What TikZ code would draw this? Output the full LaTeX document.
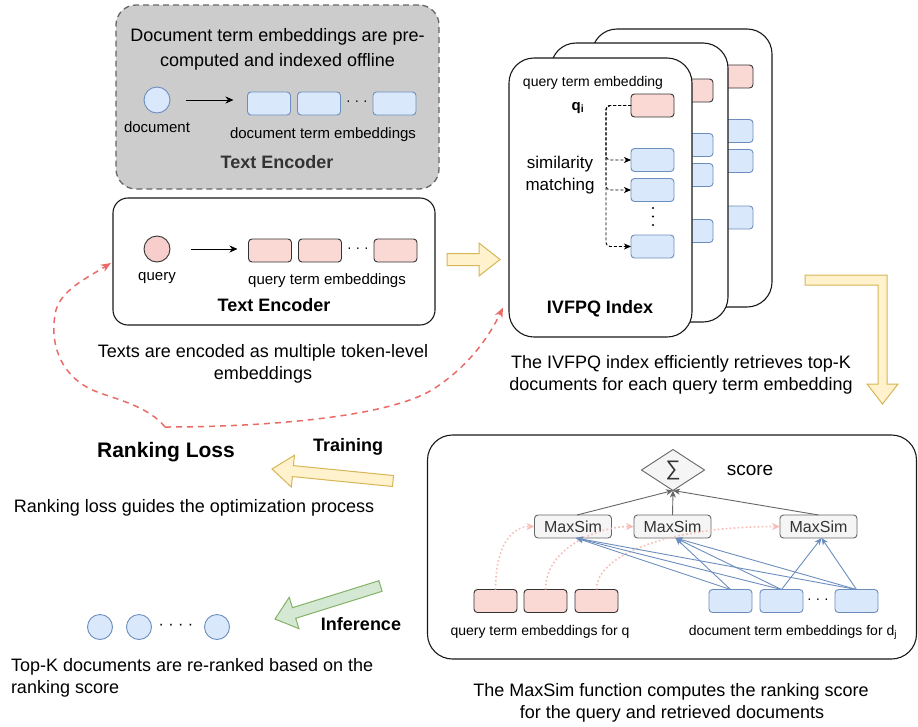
\documentclass[tikz,border=0pt]{standalone}
\usepackage{fontspec}
\setmainfont{Liberation Sans}
\usetikzlibrary{arrows.meta,shapes.geometric,calc}
\definecolor{bluefill}{HTML}{DAE8FC}
\definecolor{bluedraw}{HTML}{6C8EBF}
\definecolor{pinkfill}{HTML}{FAD9D5}
\definecolor{pinkcirc}{HTML}{F8CECC}
\definecolor{yelfill}{HTML}{FFF2CC}
\definecolor{yeldraw}{HTML}{D6B656}
\definecolor{grnfill}{HTML}{D5E8D4}
\definecolor{grndraw}{HTML}{82B366}
\definecolor{redline}{HTML}{EA6B66}
\definecolor{greybox}{HTML}{CCCCCC}
\definecolor{greyline}{HTML}{666666}
\definecolor{lightfill}{HTML}{F5F5F5}
\definecolor{darktext}{HTML}{333333}
\definecolor{pinkdot}{HTML}{F5BFB8}
\begin{document}
\begin{tikzpicture}[x=1pt,y=-1pt,
 every node/.style={inner sep=0pt,outer sep=0pt},
 t14/.style={font=\fontsize{14}{17}\selectfont},
 t15/.style={font=\fontsize{15}{18}\selectfont},
 t16/.style={font=\fontsize{16}{19}\selectfont},
 t17/.style={font=\fontsize{17}{20}\selectfont},
 t18/.style={font=\fontsize{18}{22}\selectfont},
 t19/.style={font=\fontsize{19}{23}\selectfont},
 t18b/.style={font=\fontsize{18}{22}\selectfont\bfseries},
 t21b/.style={font=\fontsize{21}{25}\selectfont\bfseries},
 embb/.style={draw=bluedraw,fill=bluefill,rounded corners=3.5,minimum width=43,minimum height=23,line width=0.9},
 embp/.style={draw=darktext,fill=pinkfill,rounded corners=3.5,minimum width=43,minimum height=23,line width=0.9},
 card/.style={draw=black!90,fill=white,rounded corners=25,line width=1.1},
 bigbox/.style={draw=black!90,fill=white,line width=1.1},
 msbox/.style={draw=greyline,fill=lightfill,rounded corners=3.5,minimum width=77,minimum height=23,text=darktext,line width=0.9,font=\fontsize{16}{19}\selectfont},
 doccirc/.style={circle,draw=bluedraw,fill=bluefill,line width=0.9},
 yarrow/.style={draw=yeldraw,fill=yelfill,line width=1},
 garrowblock/.style={draw=grndraw,fill=grnfill,line width=1},
 blackarrow/.style={-{Stealth[length=8pt,width=7pt,inset=2.5pt]},line width=0.9},
 simarrow/.style={-{Stealth[length=7pt,width=6pt,inset=2pt]},dash pattern=on 3pt off 2pt,line width=0.9,rounded corners=4},
 reddash/.style={-{Stealth[length=10pt,width=8pt,inset=3pt]},draw=redline,line width=1.5,dash pattern=on 6pt off 5pt},
 greyarrow/.style={-{Stealth[length=7pt,width=6pt,inset=2pt]},draw=greyline,line width=0.9},
 bluearrow/.style={-{Stealth[length=7pt,width=6pt,inset=2pt]},draw=bluedraw,line width=0.9},
 pinkarrow/.style={-{Stealth[length=8pt,width=7pt,inset=2.5pt]},draw=pinkdot,line width=1.6,dash pattern=on 1.6pt off 2.4pt}
]
\useasboundingbox (0,0) rectangle (918,726);

% ---------- offline document encoder ----------
\node[draw=greyline,fill=greybox,dash pattern=on 6pt off 4pt,rounded corners=20,line width=1.3,minimum width=323,minimum height=184] (pre) at (277.5,97) {};
\node[t18,anchor=base] at (277.5,41) {Document term embeddings are pre-};
\node[t18,anchor=base] at (277.5,66) {computed and indexed offline};
\node[doccirc,minimum size=26] (doc) at (157,100) {};
\node[t15,anchor=base] at (157,132) {document};
\node[embb] (de1) at (269,103.5) {};
\node[embb] (de2) at (319,103.5) {};
\node[t14] at (357,103.5) {· · ·};
\node[embb] (de3) at (394.5,103.5) {};
\draw[blackarrow,shorten <=16pt,shorten >=14pt] (doc.east) -- (doc.east -| de1.west);
\node[t15,anchor=base] at (323,138) {document term embeddings};
\node[t18b,text=darktext,anchor=base] at (277,168) {Text Encoder};

% ---------- query encoder ----------
\node[draw=black!90,fill=white,rounded corners=15,line width=1.1,minimum width=322,minimum height=127] (te) at (274,261.5) {};
\node[circle,draw=darktext,fill=pinkcirc,minimum size=26,line width=0.9] (qc) at (157,249) {};
\node[t15,anchor=base] at (157,280) {query};
\node[embp] (qe1) at (270,250.5) {};
\node[embp] (qe2) at (320,250.5) {};
\node[t14] at (358,250.5) {· · ·};
\node[embp] (qe3) at (395.5,250.5) {};
\draw[blackarrow,shorten <=21pt,shorten >=11pt] (qc.east) -- (qc.east -| qe1.west);
\node[t15,anchor=base] at (327,284) {query term embeddings};
\node[t18b,anchor=base] at (274,311) {Text Encoder};
\node[t18,anchor=base] at (263,357) {Texts are encoded as multiple token-level};
\node[t18,anchor=base] at (263,379) {embeddings};

% yellow arrow into index
\filldraw[yarrow] (447,253.5) -- (479,253.5) -- (479,243) -- (500,259.5) -- (479,276) -- (479,265.5) -- (447,265.5) -- cycle;

% ---------- IVFPQ cards ----------
\node[card,minimum width=180,minimum height=278] (c3) at (682,168) {};
\node[embp] (c3q) at (731.5,76.5) {};
\node[embb] (c3a) at (731.5,131) {};
\node[embb] (c3b) at (731.5,161) {};
\node[embb] (c3c) at (731.5,217.5) {};
\node[card,minimum width=177,minimum height=279] (c2) at (639.5,182.5) {};
\node[embp] (c2q) at (691.5,90.5) {};
\node[embb] (c2a) at (691.5,145) {};
\node[embb] (c2b) at (691.5,175) {};
\node[embb] (c2c) at (691.5,231) {};
\node[card,minimum width=183,minimum height=279] (c1) at (600.5,197.5) {};
\node[embp] (qi) at (652.5,105.5) {};
\node[embb] (m1) at (652.5,160) {};
\node[embb] (m2) at (652.5,190) {};
\node[embb] (m3) at (652.5,246.5) {};
\foreach \yy in {208,216.5,225} \fill (653,\yy) circle (1.2);
\node[t14,anchor=base] at (593,86) {query term embedding};
\node[t15,anchor=base] at (578,110) {\textbf{q\textsubscript{i}}};
\node[t17,anchor=base] at (560,168) {similarity};
\node[t17,anchor=base] at (560,190) {matching};
\coordinate (vx) at (606,0);
\draw[simarrow] (qi.west) -- (qi.west -| vx) |- (m1.west);
\draw[simarrow] (qi.west) -- (qi.west -| vx) |- (m2.west);
\draw[simarrow] (qi.west) -- (qi.west -| vx) |- (m3.west);
\node[t18b,anchor=base] at (600,313) {IVFPQ Index};
\node[t18,anchor=base] at (681,368) {The IVFPQ index efficiently retrieves top-K};
\node[t18,anchor=base] at (681,390) {documents for each query term embedding};

% L-shaped arrow
\filldraw[yarrow] (805,275) -- (887,275) -- (887,384) -- (898,384) -- (882.5,404) -- (867,384) -- (878,384) -- (878,285) -- (805,285) -- cycle;

% ---------- MaxSim ----------
\node[bigbox,rounded corners=25,minimum width=489,minimum height=224] (msb) at (672,547) {};
\node[diamond,draw=greyline,fill=lightfill,minimum width=63,minimum height=41,line width=0.9,text=darktext,font=\fontsize{21}{24}\selectfont] (sig) at (673,470) {∑};
\node[t19,anchor=base] at (750,475) {score};
\node[msbox] (ms1) at (573,526.5) {MaxSim};
\node[msbox] (ms2) at (672.5,526.5) {MaxSim};
\node[msbox] (ms3) at (818.5,526.5) {MaxSim};
\draw[greyarrow] ($(ms1.north)+(4,0)$) -- (sig.south);
\draw[greyarrow] (ms2.north) -- (sig.south);
\draw[greyarrow] (ms3.north) -- (sig.south);
\node[embp] (pk1) at (495.5,601) {};
\node[embp] (pk2) at (545.5,601) {};
\node[embp] (pk3) at (596.5,601) {};
\node[embb] (bd1) at (730.5,601) {};
\node[embb] (bd2) at (781.5,601) {};
\node[t14] at (818,601) {· · ·};
\node[embb] (bd3) at (856.5,601) {};
\node[t14,anchor=base] at (540,635) {query term embeddings for q};
\node[t14,anchor=base] at (793,635) {document term embeddings for d\textsubscript{j}};
\draw[pinkarrow] (pk1.north) .. controls +(0,-45) and +(-22,0) .. (ms1.west);
\draw[pinkarrow] (pk2.north) .. controls +(0,-42) and +(-35,0) .. (ms2.west);
\draw[pinkarrow] (pk3.north) .. controls +(0,-35) and +(-110,0) .. (ms3.west);
\foreach \s/\t in {bd1/ms1,bd1/ms2,bd2/ms1,bd2/ms2,bd2/ms3,bd3/ms1,bd3/ms2,bd3/ms3}
  \draw[bluearrow] (\s.north) -- ($(\t.south)+(3,0)$);
\node[t18,anchor=base] at (671,696) {The MaxSim function computes the ranking score};
\node[t18,anchor=base] at (672,718) {for the query and retrieved documents};

% ---------- training / inference ----------
\node[t21b,anchor=base] (rl) at (166,457) {Ranking Loss};
\node[t18b,anchor=base] at (348,451) {Training};
\filldraw[yarrow] (272,469) -- (294.5,455.2) -- (293.4,465.6) -- (393.5,475.5) -- (392.5,486.5) -- (292.4,476.6) -- (291.3,487.0) -- cycle;
\node[t18,anchor=base] at (194,512) {Ranking loss guides the optimization process};
\filldraw[garrowblock] (275,619) -- (289.2,597.3) -- (292.5,607.7) -- (378.9,580.7) -- (382.1,591.3) -- (295.7,618.3) -- (299.0,628.7) -- cycle;
\node[t18b,anchor=base] at (361,630) {Inference};
\node[doccirc,minimum size=25] (r1) at (100,627) {};
\node[doccirc,minimum size=25] (r2) at (139,627) {};
\node[t16] at (176,627) {· · · ·};
\node[doccirc,minimum size=25] (r3) at (217,627) {};
\node[t18,anchor=base west] at (11,671) {Top-K documents are re-ranked based on the};
\node[t18,anchor=base west] at (11,693) {ranking score};

% red dashed feedback curves
\coordinate (V) at (165,427);
\coordinate (ltip) at ($(te.west)+(-2,1.5)$);
\coordinate (rtip) at ($(c1.west)+(-6,110)$);
\draw[reddash] (V) .. controls (150,408) and (120,400) .. (100,393) .. controls (62,380) and (48,345) .. (56,310) .. controls (62,290) and (85,279) .. (ltip);
\draw[reddash] (V) .. controls (260,427) and (390,418) .. (435,388) .. controls (470,365) and (490,335) .. (rtip);
\end{tikzpicture}
\end{document}
